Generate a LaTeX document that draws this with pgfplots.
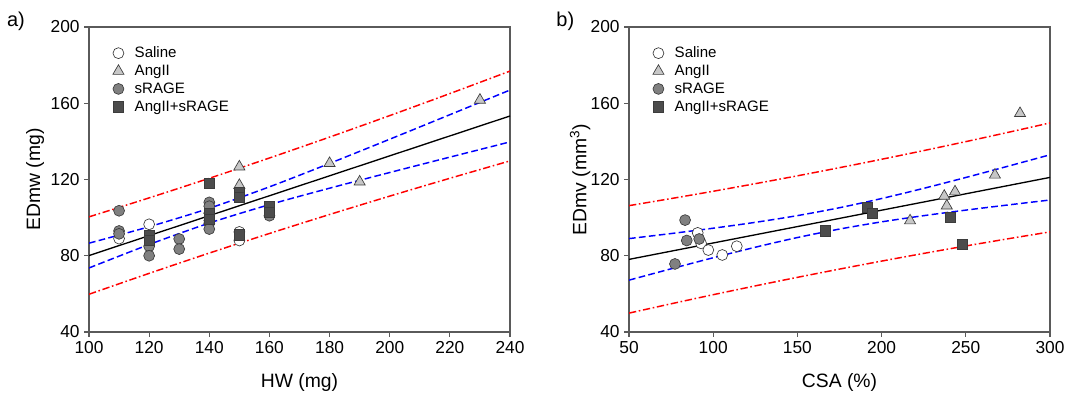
\documentclass[border=0pt]{standalone}
\usepackage{fontspec}
\setmainfont{Liberation Sans}
\usepackage{pgfplots}
\pgfplotsset{compat=1.18}
\definecolor{axgray}{RGB}{90,90,90}
\definecolor{mkedge}{RGB}{60,60,60}
\begin{document}
\begin{tikzpicture}[x=1pt,y=1pt]
\useasboundingbox (0,0) rectangle (806.25,297.75);
\pgfplotsset{
  mystyle/.style={
    scale only axis, width=315.75pt, height=228.75pt,
    anchor=south west,
    axis line style={draw=axgray, line width=0.8pt},
    tick style={axgray, line width=0.8pt},
    tick align=outside, major tick length=3.5pt,
    xtick pos=bottom, ytick pos=left,
    ymin=40, ymax=200, ytick={40,80,...,200},
    /pgf/number format/assume math mode=true,
    ticklabel style={font=\fontsize{13}{13}\selectfont},
    label style={font=\fontsize{14.5}{14.5}\selectfont},
    legend style={draw=none, fill=none, at={(0.056,0.945)}, anchor=north west,
      font=\fontsize{11.3}{11.3}\selectfont, row sep=0pt, inner sep=0pt},
    legend cell align=left,
    legend image code/.code={\path (0pt,0pt) (14pt,0pt); \draw[##1] plot coordinates {(4pt,0pt)};},
    scaled ticks=false, clip=true,
  },
  saline/.style={only marks, mark=*, mark size=4.1pt, mark options={fill=white, draw=mkedge, line width=0.5pt}},
  angii/.style={only marks, mark=triangle*, mark size=4.8pt, mark options={fill=black!22, draw=mkedge, line width=0.5pt}},
  srage/.style={only marks, mark=*, mark size=4.1pt, mark options={fill=black!50, draw=mkedge, line width=0.5pt}},
  combo/.style={only marks, mark=square*, mark size=3.8pt, mark options={fill=black!70, draw=mkedge, line width=0.5pt}},
  fitline/.style={black, line width=1pt, forget plot},
  ciline/.style={blue, line width=1.1pt, dash pattern=on 5pt off 2.5pt, forget plot},
  piline/.style={red, line width=1.1pt, dash pattern=on 5.5pt off 2pt on 1.2pt off 2pt, forget plot},
}
% ---------------- panel a ----------------
\begin{axis}[mystyle, at={(66.75pt,48.75pt)},
  xmin=100, xmax=240, xtick={100,120,...,240},
  xlabel={HW (mg)}, ylabel={EDmw (mg)},
  xlabel style={at={(axis description cs:0.5,-0.165)}, anchor=center},
  ylabel style={at={(axis description cs:-0.128,0.5)}, anchor=center},
]
\addplot[saline] coordinates {(110,89) (120,96.5) (150,92.5) (150,88)};
\addlegendentry{Saline}
\addplot[angii] coordinates {(140,104) (140,100) (150,126.7) (150,117) (180,128.5) (190,118.8) (230,161.7)};
\addlegendentry{AngII}
\addplot[srage] coordinates {(110,103.6) (110,93) (110,91.5) (120,85) (120,80) (130,88.8) (130,83.5) (140,108) (140,106) (140,97) (140,94) (160,101)};
\addlegendentry{sRAGE}
\addplot[combo] coordinates {(120,90.5) (120,88) (140,118) (140,102) (140,99) (150,113) (150,110.5) (150,91) (160,106) (160,103)};
\addlegendentry{AngII+sRAGE}
\addplot[fitline] coordinates {(100,80.1) (240,153.32)};
\addplot[ciline, smooth] coordinates {(100,86.6) (120,95.23) (140,104.9) (160,116.15) (180,128.44) (200,141.13) (220,153.99) (240,166.92)};
\addplot[ciline, smooth] coordinates {(100,73.6) (120,85.89) (140,97.14) (160,106.81) (180,115.44) (200,123.67) (220,131.73) (240,139.72)};
\addplot[piline, smooth] coordinates {(100,100.4) (120,110.36) (140,120.64) (160,131.28) (180,142.24) (200,153.52) (220,165.08) (240,176.88)};
\addplot[piline, smooth] coordinates {(100,59.8) (120,70.76) (140,81.4) (160,91.68) (180,101.64) (200,111.28) (220,120.64) (240,129.76)};
\end{axis}
% ---------------- panel b ----------------
\begin{axis}[mystyle, at={(471.75pt,48.75pt)},
  xmin=50, xmax=300, xtick={50,100,...,300},
  xlabel={CSA (\%)}, ylabel={EDmv (mm\textsuperscript{3})},
  xlabel style={at={(axis description cs:0.5,-0.165)}, anchor=center},
  ylabel style={at={(axis description cs:-0.116,0.5)}, anchor=center},
]
\addplot[saline] coordinates {(90.8,92) (92.8,86.5) (97.1,83) (105.4,80.4) (114,85)};
\addlegendentry{Saline}
\addplot[angii] coordinates {(216.9,98.4) (237.2,111.3) (238.7,106.2) (243.6,113.6) (267.3,122.4) (282.2,154.7)};
\addlegendentry{AngII}
\addplot[srage] coordinates {(77.3,75.7) (83.3,98.7) (84.3,88) (91.7,88.8)};
\addlegendentry{sRAGE}
\addplot[combo] coordinates {(166.4,93.1) (191.5,105.2) (194.5,102.2) (240.6,100.2) (248.1,86)};
\addlegendentry{AngII+sRAGE}
\addplot[fitline] coordinates {(50,78.1) (300,121.1)};
\addplot[ciline, smooth] coordinates {(50,89.0) (75,91.65) (100,94.45) (125,97.53) (150,101.05) (175,105.2) (200,110.02) (225,115.37) (250,121.06) (275,126.96) (300,132.96)};
\addplot[ciline, smooth] coordinates {(50,67.2) (75,73.15) (100,78.95) (125,84.47) (150,89.55) (175,94.0) (200,97.78) (225,101.03) (250,103.94) (275,106.64) (300,109.24)};
\addplot[piline, smooth] coordinates {(50,106.29) (75,110.0) (100,113.83) (125,117.81) (150,121.93) (175,126.2) (200,130.61) (225,135.17) (250,139.87) (275,144.71) (300,149.68)};
\addplot[piline, smooth] coordinates {(50,49.91) (75,54.8) (100,59.57) (125,64.19) (150,68.67) (175,73.0) (200,77.19) (225,81.23) (250,85.13) (275,88.89) (300,92.52)};
\end{axis}
\node[font=\fontsize{15}{15}\selectfont] at (12,282) {a)};
\node[font=\fontsize{15}{15}\selectfont] at (424,282) {b)};
\end{tikzpicture}
\end{document}
